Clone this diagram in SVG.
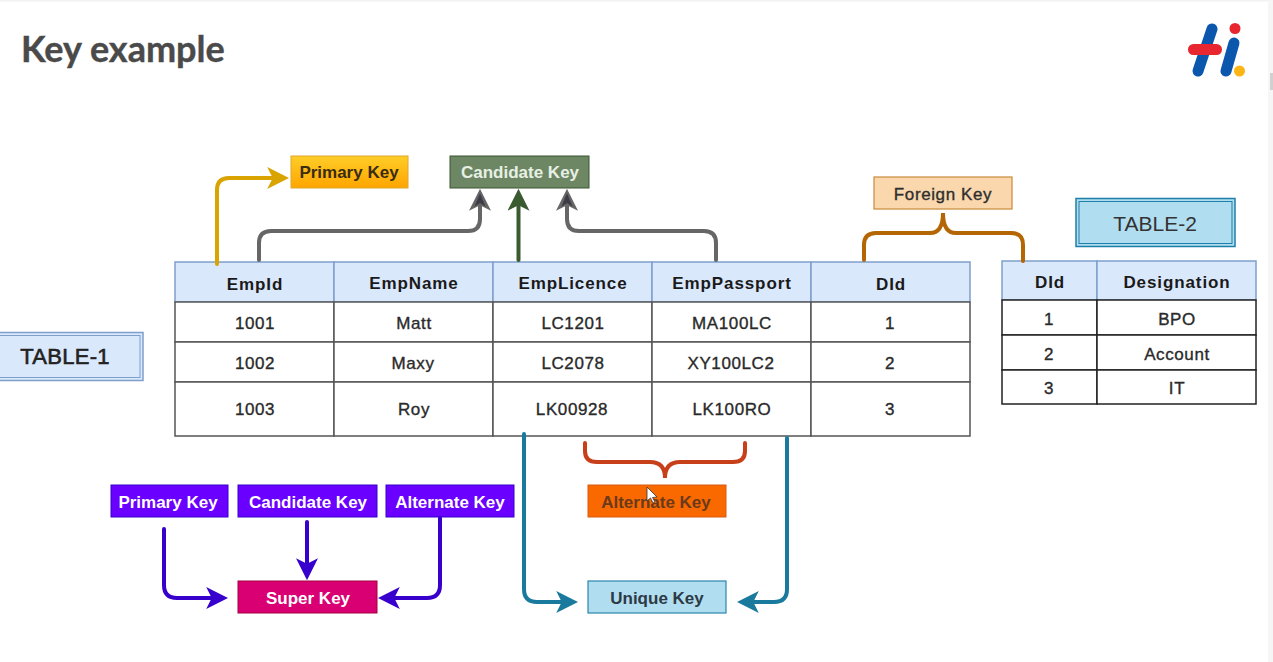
<svg xmlns="http://www.w3.org/2000/svg" width="1273" height="662" viewBox="0 0 1273 662">
<style>
text{font-family:"Liberation Sans",Arial,sans-serif;text-anchor:middle;fill:#222}
.title{font-family:Lato,"Liberation Sans",sans-serif;font-weight:700;font-size:36px;fill:#4a4a4a;text-anchor:start;stroke:#4a4a4a;stroke-width:.4px}
.k{font-size:17px;font-weight:700}
.h{font-size:17px;font-weight:700;letter-spacing:.9px;fill:#1a1a1a}
.d{font-size:17px;letter-spacing:.6px;fill:#2a2a2a;stroke:#2a2a2a;stroke-width:.35px}
.t{font-size:22px}
.w{fill:#fff}
.hc{fill:#dae8fc;stroke:#7f9fcb;stroke-width:1.5}
.c1{fill:#fff;stroke:#555;stroke-width:1.5}
.c2{fill:#fff;stroke:#222;stroke-width:1.5}
.purple{fill:#6a00ff;stroke:#3700cc}
.line{fill:none;stroke-width:4;stroke-linecap:round}
.logo{fill:none;stroke-linecap:round;stroke-width:11}
</style>
<defs>
<linearGradient id="amber" x1="0" y1="0" x2="0" y2="1"><stop offset="0" stop-color="#ffcd28"/><stop offset="1" stop-color="#ffa500"/></linearGradient>
<marker id="aY" markerUnits="userSpaceOnUse" markerWidth="22" markerHeight="22" viewBox="0 0 20 20" refX="8" refY="10" orient="auto"><path d="M20 10L0 0L5 10L0 20Z" fill="#d9a300"/></marker>
<marker id="aG" markerUnits="userSpaceOnUse" markerWidth="22" markerHeight="22" viewBox="0 0 20 20" refX="8" refY="10" orient="auto"><path d="M20 10L0 0L5 10L0 20Z" fill="#666"/><path d="M16 10L4 5L7 10L4 15Z" fill="#3c3c46"/></marker>
<marker id="aD" markerUnits="userSpaceOnUse" markerWidth="22" markerHeight="22" viewBox="0 0 20 20" refX="8" refY="10" orient="auto"><path d="M20 10L0 0L5 10L0 20Z" fill="#3a5a30"/></marker>
<marker id="aB" markerUnits="userSpaceOnUse" markerWidth="22" markerHeight="22" viewBox="0 0 20 20" refX="8" refY="10" orient="auto"><path d="M20 10L0 0L5 10L0 20Z" fill="#1a7a9e"/></marker>
<marker id="aP" markerUnits="userSpaceOnUse" markerWidth="22" markerHeight="22" viewBox="0 0 20 20" refX="8" refY="10" orient="auto"><path d="M20 10L0 0L5 10L0 20Z" fill="#3700cc"/></marker>
</defs>
<rect width="1273" height="662" fill="#fff"/>
<rect width="1273" height="1.5" fill="#f2f2f2"/>
<rect x="1268" y="0" width="5" height="662" fill="#f6f6f6"/>
<rect x="1270" y="73" width="3" height="17" fill="#d0d0d0"/>
<text class="title" x="21" y="62">Key example</text>
<g id="logo">
<path class="logo" d="M1212 29L1198 71" stroke="#0b57ad"/>
<path class="logo" d="M1234 43L1226 71" stroke="#0b57ad"/>
<path class="logo" d="M1193.500 49.500H1216.500" stroke="#e8262f"/>
<circle cx="1235" cy="28.500" r="5.500" fill="#e8262f"/>
<circle cx="1239.500" cy="71" r="5.500" fill="#fbb514"/>
</g>
<g id="table-1-label"><rect x="-2" y="332.500" width="145" height="48" fill="#dae8fc" stroke="#7f9fcb" stroke-width="1.500"/><rect x="-2" y="335.500" width="142" height="42" fill="none" stroke="#7f9fcb"/><text class="t" x="65" y="364" style="stroke:#222;stroke-width:.6px;letter-spacing:.3px">TABLE-1</text></g>
<g id="table-2-label"><rect x="1076" y="198.500" width="159" height="48" fill="#b1ddf0" stroke="#1f7fa8" stroke-width="1.500"/><rect x="1079" y="201.500" width="153" height="42" fill="none" stroke="#1f7fa8"/><text class="t" x="1155" y="231" style="fill:#333;font-size:21px">TABLE-2</text></g>
<g id="table-1">
<rect class="hc" x="175" y="262" width="159" height="40"/><rect class="hc" x="334" y="262" width="159" height="40"/><rect class="hc" x="493" y="262" width="159" height="40"/><rect class="hc" x="652" y="262" width="159" height="40"/><rect class="hc" x="811" y="262" width="159" height="40"/>
<rect class="c1" x="175" y="302" width="159" height="40"/><rect class="c1" x="334" y="302" width="159" height="40"/><rect class="c1" x="493" y="302" width="159" height="40"/><rect class="c1" x="652" y="302" width="159" height="40"/><rect class="c1" x="811" y="302" width="159" height="40"/>
<rect class="c1" x="175" y="342" width="159" height="40"/><rect class="c1" x="334" y="342" width="159" height="40"/><rect class="c1" x="493" y="342" width="159" height="40"/><rect class="c1" x="652" y="342" width="159" height="40"/><rect class="c1" x="811" y="342" width="159" height="40"/>
<rect class="c1" x="175" y="382" width="159" height="54"/><rect class="c1" x="334" y="382" width="159" height="54"/><rect class="c1" x="493" y="382" width="159" height="54"/><rect class="c1" x="652" y="382" width="159" height="54"/><rect class="c1" x="811" y="382" width="159" height="54"/>
<text class="h" x="255" y="290">EmpId</text><text class="h" x="414" y="289">EmpName</text><text class="h" x="573" y="289">EmpLicence</text><text class="h" x="732" y="289">EmpPassport</text><text class="h" x="891" y="290">DId</text>
<text class="d" x="255" y="329">1001</text><text class="d" x="414" y="329">Matt</text><text class="d" x="573" y="329">LC1201</text><text class="d" x="732" y="329">MA100LC</text><text class="d" x="890" y="329">1</text>
<text class="d" x="255" y="369">1002</text><text class="d" x="413" y="369">Maxy</text><text class="d" x="573" y="369">LC2078</text><text class="d" x="731" y="369">XY100LC2</text><text class="d" x="890" y="369">2</text>
<text class="d" x="255" y="415">1003</text><text class="d" x="414" y="415">Roy</text><text class="d" x="572" y="415">LK00928</text><text class="d" x="732" y="415">LK100RO</text><text class="d" x="890" y="415">3</text>
</g>
<g id="table-2">
<rect class="hc" x="1002" y="261" width="95" height="39"/><rect class="hc" x="1097" y="261" width="159" height="39"/>
<rect class="c2" x="1002" y="300" width="95" height="35"/><rect class="c2" x="1097" y="300" width="159" height="35"/>
<rect class="c2" x="1002" y="335" width="95" height="35"/><rect class="c2" x="1097" y="335" width="159" height="35"/>
<rect class="c2" x="1002" y="370" width="95" height="34"/><rect class="c2" x="1097" y="370" width="159" height="34"/>
<text class="h" x="1050" y="288">DId</text><text class="h" x="1177" y="288">Designation</text>
<text class="d" x="1049" y="325">1</text><text class="d" x="1177" y="325">BPO</text>
<text class="d" x="1049" y="360">2</text><text class="d" x="1177" y="360">Account</text>
<text class="d" x="1049" y="394">3</text><text class="d" x="1177" y="394">IT</text>
</g>
<g id="primary-key"><rect x="291" y="156" width="117" height="32" fill="url(#amber)" stroke="#e0a82a"/><text class="k" x="349" y="178" style="fill:#3a2c10">Primary Key</text></g>
<g id="candidate-key"><rect x="450" y="156" width="139" height="32" fill="#6d8764" stroke="#3a5431"/><text class="k" x="520" y="178" style="fill:#e8f0e4">Candidate Key</text></g>
<g id="foreign-key"><rect x="874" y="177" width="138" height="32" fill="#fad7ac" stroke="#c98a3a" stroke-width="1.200"/><text class="k" x="943" y="200" style="fill:#2e2e2e;font-weight:400;stroke:#2e2e2e;stroke-width:.35px;letter-spacing:.6px">Foreign Key</text></g>
<g id="primary-key-2"><rect class="purple" x="111" y="485" width="117" height="32"/><text class="k w" x="168" y="508">Primary Key</text></g>
<g id="candidate-key-2"><rect class="purple" x="238" y="485" width="139" height="32"/><text class="k w" x="308" y="508">Candidate Key</text></g>
<g id="alternate-key-2"><rect class="purple" x="386" y="485" width="128" height="32"/><text class="k w" x="450" y="508">Alternate Key</text></g>
<g id="super-key"><rect x="238" y="581" width="139" height="32" fill="#d80073" stroke="#a50040"/><text class="k w" x="308" y="604">Super Key</text></g>
<g id="alternate-key"><rect x="588" y="485" width="138" height="32" fill="#fa6800" stroke="#d85a10"/><text class="k" x="656" y="508" style="fill:#6a3a1c">Alternate Key</text></g>
<g id="unique-key"><rect x="588" y="581" width="138" height="32" fill="#b1ddf0" stroke="#2b86ad" stroke-width="1.200"/><text class="k" x="657" y="604" style="fill:#2b3a44">Unique Key</text></g>
<g id="connectors">
<path class="line" stroke="#d9a300" d="M217 264V190Q217 178 229 178H276" marker-end="url(#aY)"/>
<path class="line" stroke="#666" d="M259 260V243Q259 231 271 231H468Q480 231 480 219V202" marker-end="url(#aG)"/>
<path class="line" stroke="#3a5a30" d="M518.500 260V202" marker-end="url(#aD)"/>
<path class="line" stroke="#666" d="M716 260V243Q716 231 704 231H579Q567 231 567 219V202" marker-end="url(#aG)"/>
<path class="line" stroke="#b46504" d="M864 260V245Q864 233 876 233H930Q943 233 943 213Q943 233 956 233H1011Q1023 233 1023 245V261"/>
<path class="line" stroke="#c8401a" d="M585 443V451Q585 462 597 462H650Q665 462 665 478Q665 462 680 462H733Q745 462 745 451V443"/>
<path class="line" stroke="#1a7a9e" d="M524 434V589Q524 602 537 602H565" marker-end="url(#aB)"/>
<path class="line" stroke="#1a7a9e" d="M787 438V589Q787 602 774 602H750" marker-end="url(#aB)"/>
<path class="line" stroke="#3700cc" d="M164 529V585Q164 598 177 598H215" marker-end="url(#aP)"/>
<path class="line" stroke="#3700cc" d="M307 522V567" marker-end="url(#aP)"/>
<path class="line" stroke="#3700cc" d="M440 518V585Q440 598 427 598H391" marker-end="url(#aP)"/>
</g>
<path id="cursor" d="M647 487V501L650.500 498L653 503L655 502L652.500 497.500L657 497Z" fill="#fff" stroke="#333" stroke-width=".8"/>
</svg>
